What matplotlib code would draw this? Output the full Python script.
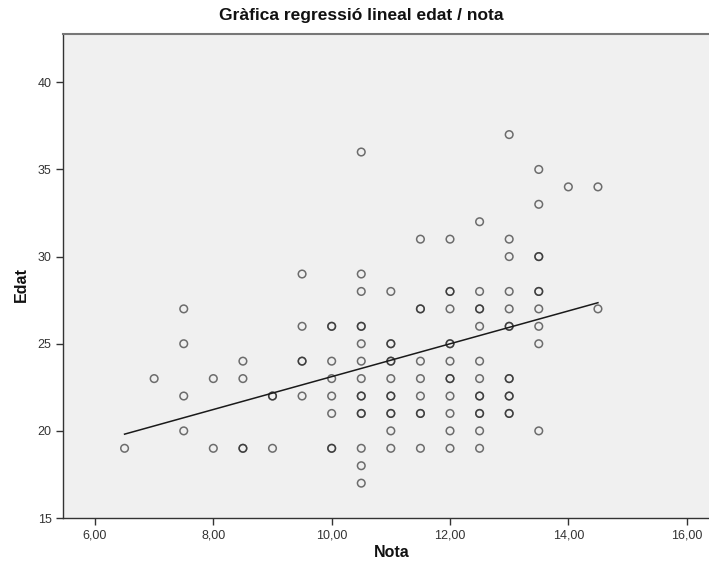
import numpy as np
import matplotlib
matplotlib.use("Agg")
import matplotlib.pyplot as plt

plt.rcParams['font.family'] = ['Liberation Sans', 'DejaVu Sans']

# Data (Nota -> list of Edat values; repeated values = overlapping points)
nota_groups = [6.5, 7.0, 7.5, 8.0, 8.5, 9.0, 9.5, 10.0, 10.5, 11.0, 11.5, 12.0, 12.5, 13.0, 13.5, 14.0, 14.5]
edat_groups = [
    [19],
    [23],
    [27, 25, 22, 20],
    [23, 19],
    [24, 23, 19, 19],
    [22, 22, 19],
    [29, 26, 24, 24, 22],
    [26, 26, 24, 23, 22, 21, 19, 19],
    [36, 29, 28, 26, 26, 25, 24, 23, 22, 22, 21, 21, 19, 18, 17],
    [28, 25, 25, 24, 24, 23, 22, 22, 21, 21, 20, 19],
    [31, 27, 27, 24, 23, 22, 21, 21, 19],
    [31, 28, 28, 27, 25, 25, 24, 23, 23, 22, 21, 20, 19],
    [32, 28, 27, 27, 26, 24, 23, 22, 22, 21, 21, 20, 19],
    [37, 31, 30, 28, 27, 26, 26, 23, 23, 22, 22, 21, 21],
    [35, 33, 30, 30, 28, 28, 27, 26, 25, 20],
    [34],
    [34, 27],
]

nota = np.array([x for x, ys in zip(nota_groups, edat_groups) for _ in ys], dtype=float)
edat = np.array([y for ys in edat_groups for y in ys], dtype=float)

x_ticks = [6, 8, 10, 12, 14, 16]
x_tick_labels = ["6,00", "8,00", "10,00", "12,00", "14,00", "16,00"]
y_ticks = [15, 20, 25, 30, 35, 40]
y_tick_labels = ["15", "20", "25", "30", "35", "40"]

fig = plt.figure(figsize=(7.09, 5.69), dpi=100)
ax = fig.add_axes([0.0884, 0.0896, 0.9116, 0.8506])
ax.set_facecolor('#F0F0F0')

ax.scatter(nota, edat, s=30, facecolors='none', edgecolors=(0.15, 0.15, 0.15, 0.65),
           linewidths=1.1, zorder=3)

# Linear regression fit line
slope, intercept = np.polyfit(nota, edat, 1)
xf = np.array([nota.min(), nota.max()])
ax.plot(xf, intercept + slope * xf, color='#1a1a1a', linewidth=1.1, zorder=4)

ax.set_xlim(5.454, 16.377)
ax.set_ylim(15, 42.77)
ax.set_xticks(x_ticks)
ax.set_xticklabels(x_tick_labels)
ax.set_yticks(y_ticks)
ax.set_yticklabels(y_tick_labels)
ax.tick_params(axis='both', direction='out', length=5, width=1, color='#333333',
               labelsize=9, labelcolor='#333333', pad=3)

ax.spines['right'].set_visible(False)
for side in ['left', 'bottom']:
    ax.spines[side].set_color('#333333')
    ax.spines[side].set_linewidth(1.0)
ax.spines['top'].set_color('#777777')
ax.spines['top'].set_linewidth(1.5)

fig.text(0.509, 0.973, "Gràfica regressió lineal edat / nota", ha='center', va='center',
         fontsize=12.5, fontweight='bold', color='#111111')
fig.text(0.552, 0.029, "Nota", ha='center', va='center', fontsize=11.5, fontweight='bold',
         color='#111111')
fig.text(0.030, 0.50, "Edat", ha='center', va='center', fontsize=11.5, fontweight='bold',
         rotation=90, color='#111111')

fig.savefig("out.png", dpi=100, facecolor='white')
